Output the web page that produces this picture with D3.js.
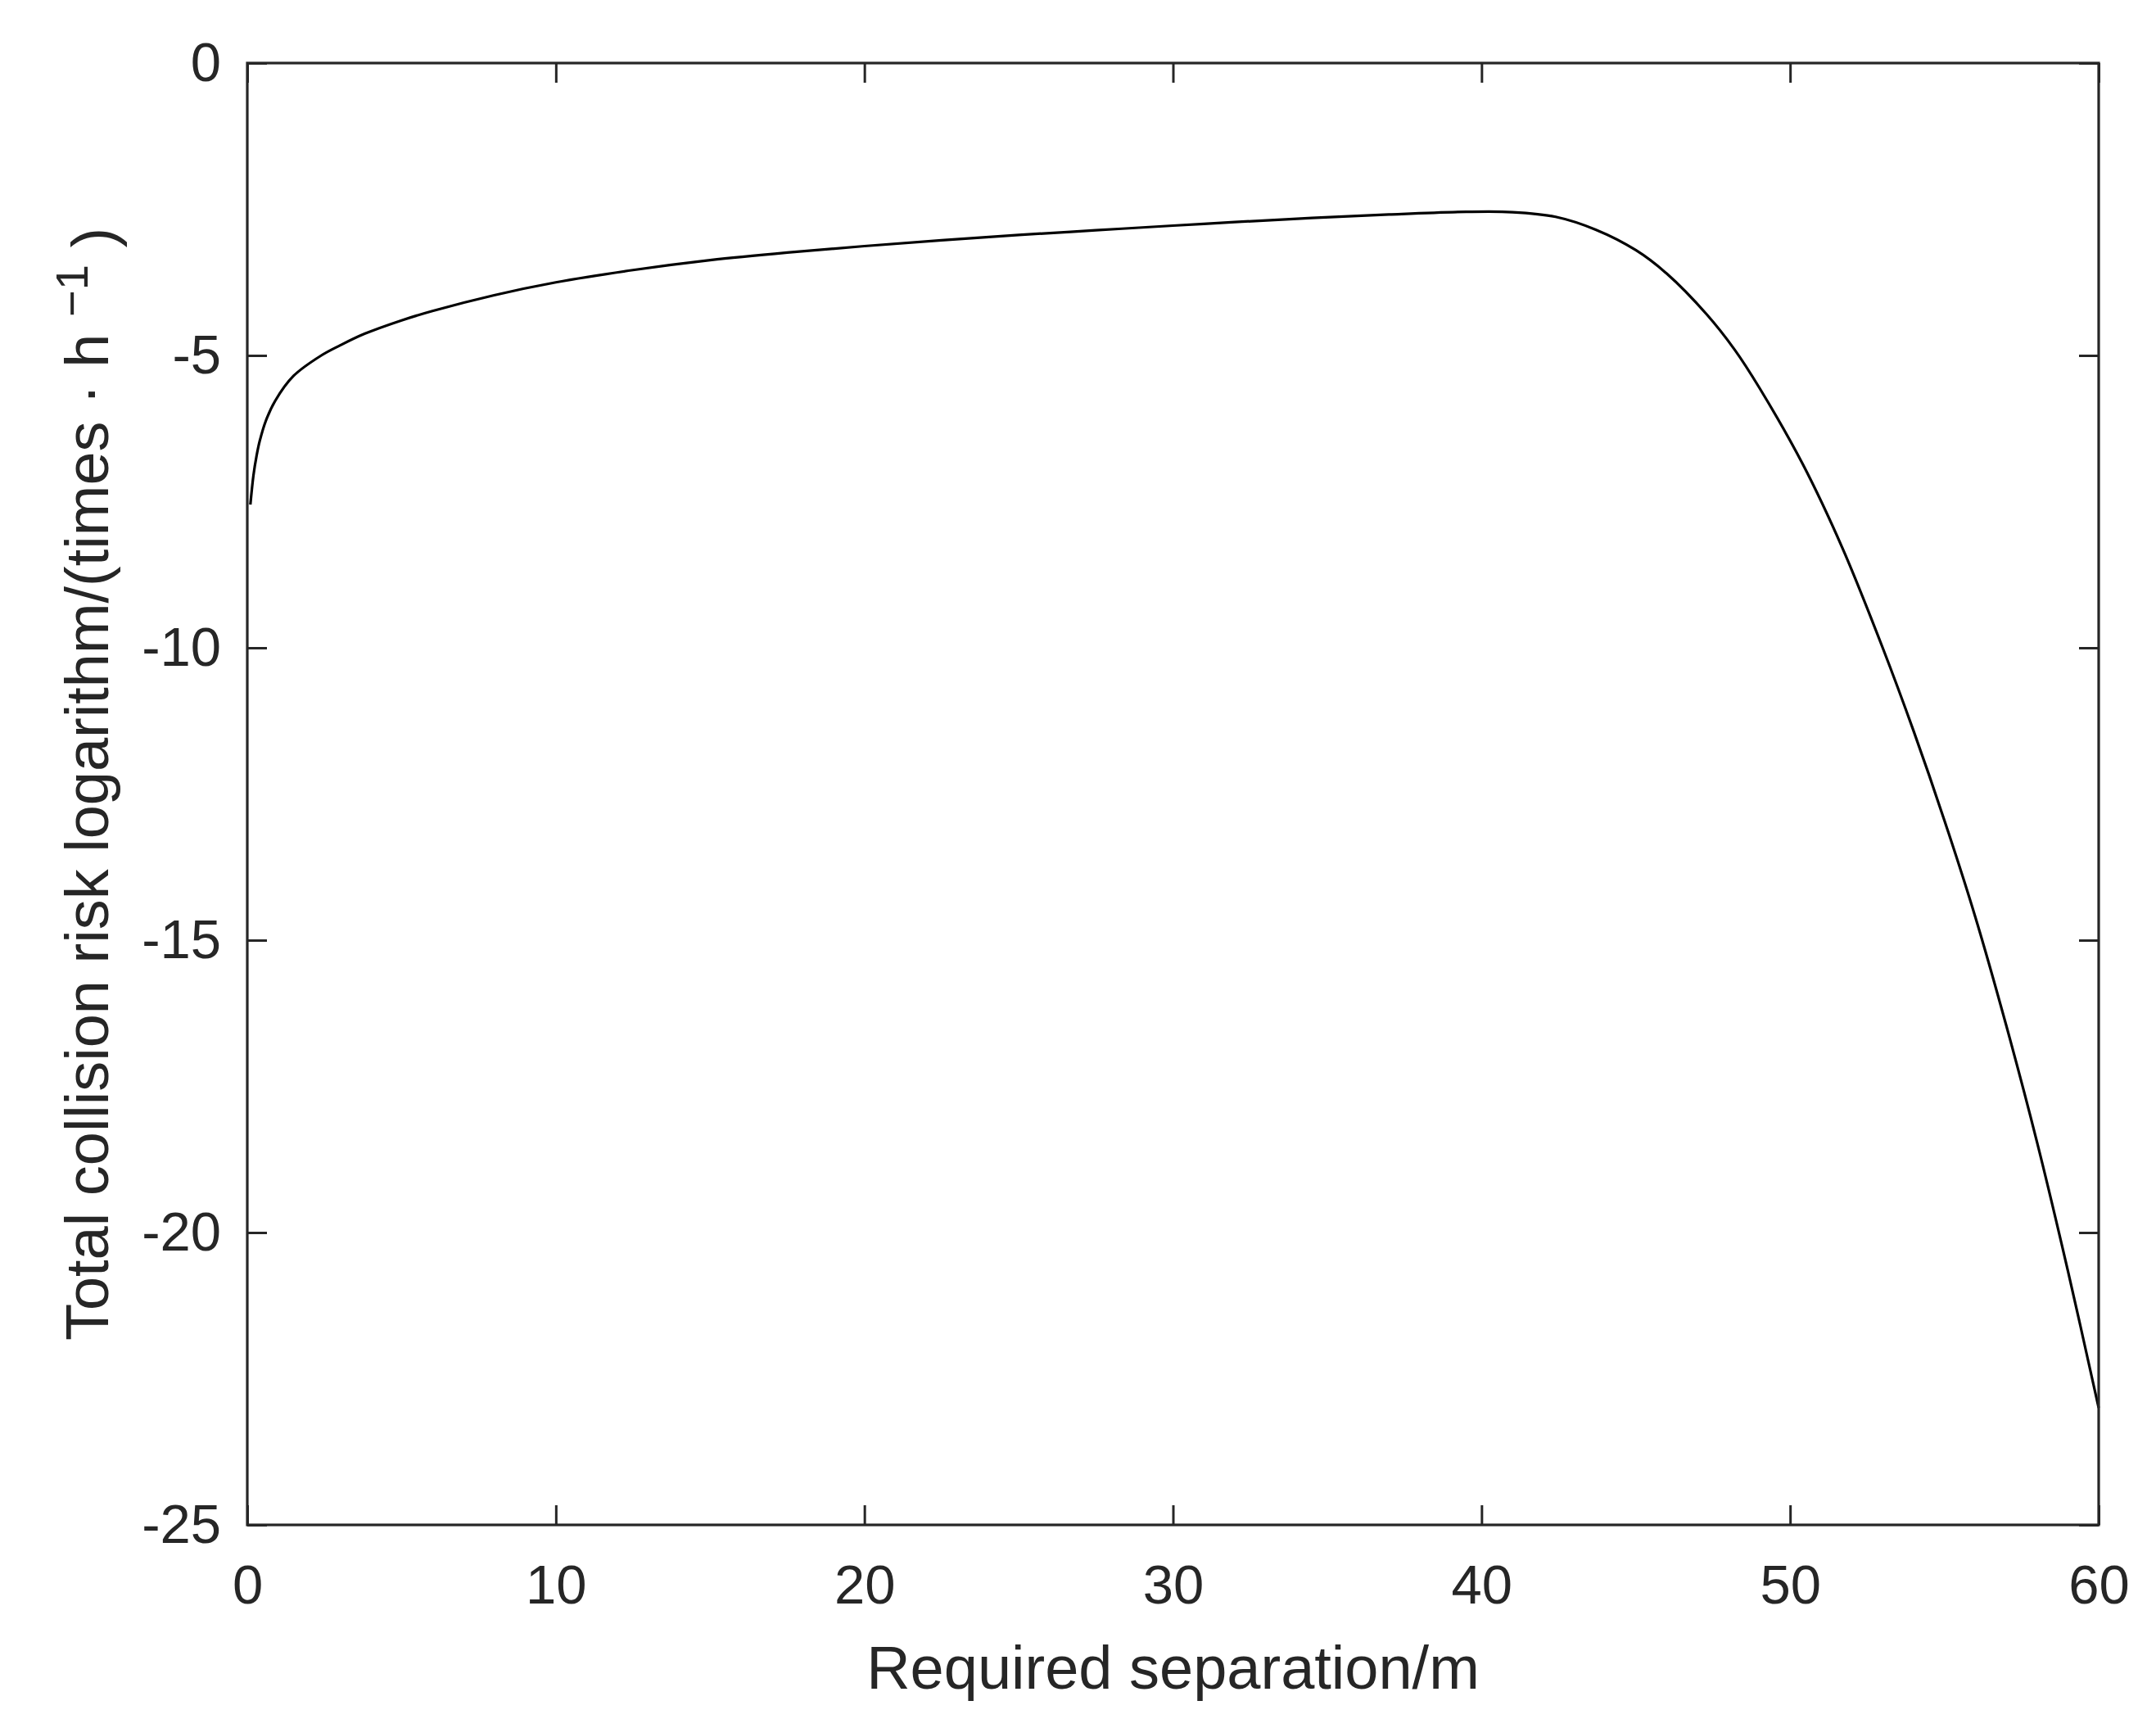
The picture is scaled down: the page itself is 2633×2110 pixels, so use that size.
<!DOCTYPE html>
<html>
<head>
<meta charset="utf-8">
<script src="https://cdn.jsdelivr.net/npm/d3@7/dist/d3.min.js"></script>
<style>
  html, body { margin: 0; padding: 0; background: #ffffff; }
  svg { display: block; }
</style>
</head>
<body>
<script>
// ---- data ----
const separation = [0.1, 0.2, 0.3, 0.4, 0.6, 0.9, 1.5, 2.4, 3, 3.8, 5, 6, 8, 10, 12.5, 15, 17.5, 20, 22.5, 25, 27.5, 30, 32, 34.5, 37, 39.5, 41, 42.4, 43.7, 45, 46, 47.3, 48.2, 49, 50.4, 51.7, 53, 54, 55, 56, 57, 58, 59, 60];
const riskLog = [-7.55, -7.05, -6.72, -6.47, -6.12, -5.78, -5.35, -5.0, -4.83, -4.63, -4.4, -4.24, -3.97, -3.75, -3.54, -3.37, -3.24, -3.13, -3.03, -2.94, -2.86, -2.78, -2.72, -2.65, -2.59, -2.545, -2.55, -2.63, -2.85, -3.2, -3.6, -4.3, -4.9, -5.55, -6.85, -8.3, -10.0, -11.42, -12.95, -14.6, -16.45, -18.45, -20.65, -23.0];
const xTicks = [0, 10, 20, 30, 40, 50, 60];
const yTicks = [0, -5, -10, -15, -20, -25];
const xLabel = "Required separation/m";
const yLabelMain = "Total collision risk logarithm/(times \u00B7 h ";
const yLabelSup = "\u22121";
const yLabelEnd = ")";

// ---- layout ----
const W = 2633, H = 2110;
const L = 302, R = 2563, T = 77, B = 1862;
const axisColor = "#262626";
const fontFam = "Liberation Sans, Arial, Helvetica, sans-serif";

const svg = d3.select("body").append("svg")
  .attr("width", W).attr("height", H)
  .style("background", "#ffffff");

const x = d3.scaleLinear().domain([0, 60]).range([L, R]);
const y = d3.scaleLinear().domain([-25, 0]).range([B, T]);

const data = separation.map((s, i) => ({ s, v: riskLog[i] }));

// curve
svg.append("path")
  .datum(data)
  .attr("fill", "none")
  .attr("stroke", "#000000")
  .attr("stroke-width", 3.2)
  .attr("d", d3.line().x(d => x(d.s)).y(d => y(d.v)).curve(d3.curveCatmullRom.alpha(0.5)));

// axes
const tickLen = 24;
function styleAxis(g) {
  g.select(".domain").remove();
  g.selectAll(".tick line").attr("stroke", axisColor).attr("stroke-width", 3);
  g.selectAll(".tick text").attr("fill", axisColor)
    .style("font-family", fontFam).style("font-size", "67px");
}

svg.append("g").attr("transform", `translate(0,${B})`)
  .call(d3.axisBottom(x).tickValues(xTicks).tickSizeInner(-tickLen).tickSizeOuter(0).tickPadding(48).tickFormat(d => String(d)))
  .call(styleAxis);
svg.append("g").attr("transform", `translate(0,${T})`)
  .call(d3.axisTop(x).tickValues(xTicks).tickSizeInner(-tickLen).tickSizeOuter(0).tickFormat(() => ""))
  .call(styleAxis);
svg.append("g").attr("transform", `translate(${L},0)`)
  .call(d3.axisLeft(y).tickValues(yTicks).tickSizeInner(-tickLen).tickSizeOuter(0).tickPadding(32).tickFormat(d => String(d)))
  .call(styleAxis);
svg.append("g").attr("transform", `translate(${R},0)`)
  .call(d3.axisRight(y).tickValues(yTicks).tickSizeInner(-tickLen).tickSizeOuter(0).tickFormat(() => ""))
  .call(styleAxis);

// frame
svg.append("rect")
  .attr("x", L).attr("y", T).attr("width", R - L).attr("height", B - T)
  .attr("fill", "none").attr("stroke", axisColor).attr("stroke-width", 3.2);

// x label
svg.append("text")
  .attr("x", (L + R) / 2).attr("y", 2062)
  .attr("text-anchor", "middle")
  .attr("fill", axisColor)
  .style("font-family", fontFam).style("font-size", "74px")
  .text(xLabel);

// y label
const yl = svg.append("text")
  .attr("transform", `translate(132,${(T + B) / 2 - 12}) rotate(-90)`)
  .attr("text-anchor", "middle")
  .attr("fill", axisColor)
  .style("font-family", fontFam).style("font-size", "74px");
yl.append("tspan").text(yLabelMain);
yl.append("tspan").attr("dy", "-0.45em").style("font-size", "56px").text(yLabelSup);
yl.append("tspan").attr("dy", "0.45em").text(" " + yLabelEnd);
</script>
</body>
</html>
